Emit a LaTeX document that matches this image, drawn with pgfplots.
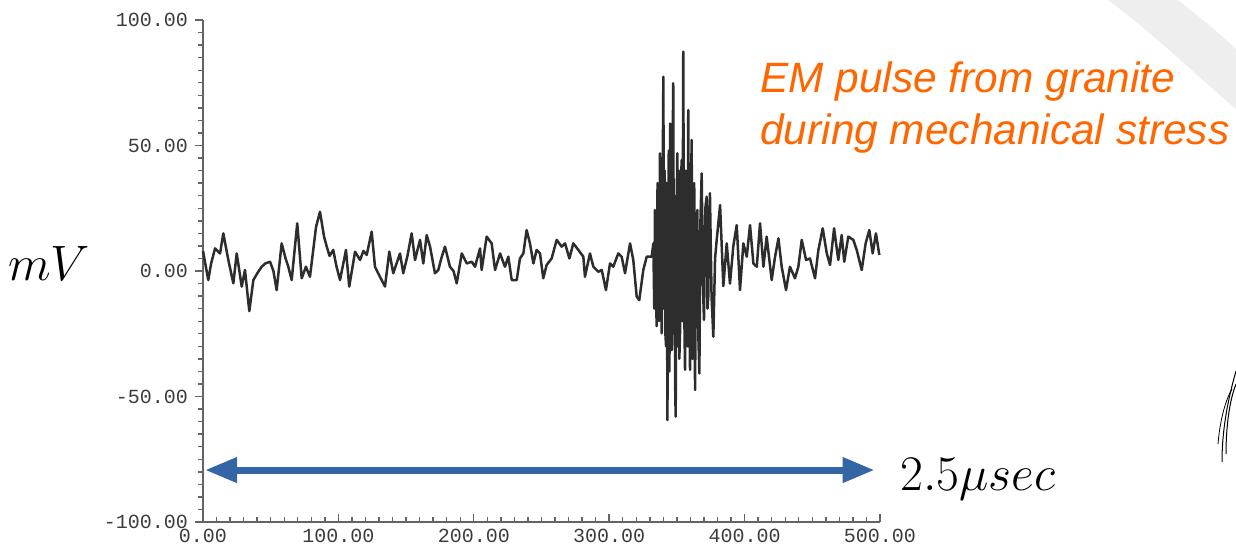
\documentclass[border=0pt]{standalone}
\usepackage{fontspec}
\usepackage{pgfplots}
\pgfplotsset{compat=1.18}
\usetikzlibrary{arrows.meta}
\newfontfamily\ticksfont{Liberation Mono}
\newfontfamily\notefont{Liberation Sans}
\definecolor{axisgray}{RGB}{100,100,100}
\definecolor{labelgray}{RGB}{60,60,60}
\definecolor{tracegray}{RGB}{45,45,45}
\definecolor{arrowblue}{RGB}{52,101,164}
\definecolor{noteorange}{RGB}{255,102,0}
\definecolor{bandgray}{RGB}{238,238,238}
\begin{document}
\begin{tikzpicture}
\begin{scope}[x=0.5pt,y=0.5pt]
\useasboundingbox (0,0) rectangle (1236,549);
% decorative light band top right
\fill[bandgray] (1108,549) .. controls (1160,510) and (1200,470) .. (1236,440) -- (1236,500) .. controls (1215,520) and (1195,535) .. (1178,549) -- cycle;
% small scribble bottom right
\draw[black, line width=0.5pt] (1222,87) .. controls (1222,120) and (1228,150) .. (1236,178);
\draw[black, line width=0.5pt] (1226,95) .. controls (1226,125) and (1230,150) .. (1236,165);
\draw[black, line width=0.4pt] (1218,105) .. controls (1220,130) and (1226,150) .. (1232,160);
\end{scope}
\begin{axis}[
 at={(101.5pt,13.5pt)}, anchor=south west,
 scale only axis, width=338.5pt, height=251pt,
 xmin=0, xmax=500, ymin=-100, ymax=100,
 axis x line*=bottom, axis y line*=left,
 axis line style={draw=axisgray, line width=0.9pt, -},
 xtick={0,100,...,500}, ytick={-100,-50,...,100},
 minor x tick num=9, minor y tick num=9,
 xtick align=inside, ytick align=outside,
 major tick length=4pt, minor tick length=2.5pt,
 every tick/.style={draw=axisgray, line width=0.7pt},
 ticklabel style={font=\ticksfont\fontsize{10}{10}\selectfont, text=labelgray},
 /pgf/number format/fixed, /pgf/number format/fixed zerofill,
 /pgf/number format/precision=2, /pgf/number format/assume math mode=true,
 /pgf/number format/1000 sep={},
 clip=false,
]
\addplot[tracegray, line width=1.25pt, line join=round] coordinates {
(0,8) (2,2) (3.9,-3.6) (6,3) (8.9,9) (12.6,7) (15,15) (18.7,4.4) (22.4,-4.9) (24.9,7)
(28.6,-6.2) (31,0.4) (34.2,-16) (37.2,-3.6) (40,-1) (43.3,1.7) (46,3) (49.5,3.7) (52,0) (54.4,-7.6)
(58.1,11) (61,5) (63,1.7) (65.5,-3.6) (69.6,19) (72.9,-2.9) (76,1.7) (79,-2.3) (83.5,17.6) (86.4,23.6)
(89.4,13.7) (91.4,9.7) (93.5,6) (96.2,8.4) (98.5,2) (101.2,-3.6) (105.6,8.4) (108,-6.2) (112.3,7.7) (116,4.4)
(118.5,8) (120.9,6.4) (124.6,15.7) (127,1.7) (130.7,-2.3) (134.4,-6.2) (137.6,7.7) (140.5,-0.9) (145.5,7) (147.9,-0.9)
(151,6) (154.1,15) (156.6,4.4) (160.3,12.4) (162.7,3) (165.2,14.3) (167.7,9.7) (171.3,-0.9) (173.8,0.4) (176,5)
(178.7,9.7) (182.4,1.7) (185,0) (187.4,-4.9) (191.1,7) (194.8,3) (198.5,3.7) (200.9,1.7) (204.6,9) (205.8,0.4)
(209.5,13.7) (213.2,11) (215.7,0.4) (219.4,7) (223,1.7) (225.5,5.7) (228,-3.6) (231.7,-3.6) (234.1,5) (236.6,7)
(239,16.3) (241.5,11) (244,3) (246.4,8.4) (248.9,7) (251.3,-2.9) (253.8,2.4) (257.5,5) (261.2,12.4) (264.9,9.7)
(267.4,11) (270.6,5) (273.5,11) (277.2,8.4) (280.9,5.7) (282.1,-2.3) (285.8,7) (288.3,1.7) (292,-0.3) (294.5,0.4)
(297.6,-7.6) (300.6,3) (303,1.7) (306.7,7) (309.2,5.7) (311.7,-0.9) (315.4,11) (317.8,4.4) (320.3,-10.2) (322.2,-11.6)
(325.2,0.4) (327.7,5.7) (331.4,5.7) (332.6,11) (333.3,-15) (333.8,24.3) (334.4,-8) (335.1,-22) (335.7,35) (336.2,20)
(336.8,-20) (337.5,46.9) (338.1,0) (338.8,-24.8) (339.4,30) (340,77.4) (340.5,-15) (341,40) (341.5,-25) (342,-30)
(342.5,35) (343,-59.4) (343.5,10) (344,48) (344.5,-40) (345,58.8) (345.6,-20) (346.2,-31.5) (346.8,45) (347.3,74.8)
(347.8,-25) (348.2,30) (348.7,-45) (349.1,-58) (349.7,20) (350.3,46.9) (350.8,-30) (351.3,40) (351.8,-35) (352.3,-24.8)
(352.9,30) (353.5,44.2) (354.1,-20) (354.7,87.4) (355.3,-10) (356,-39.4) (356.6,40) (357.2,30) (357.8,-30) (358.4,64.1)
(359,-10) (359.7,-39.4) (360.3,25) (360.9,52.2) (361.5,-35) (362.2,-20) (362.8,35) (363.4,-47.4) (364.2,15) (365.1,24.3)
(365.8,-25) (366.6,-40.8) (367.4,20) (368.3,38.9) (369.2,-5) (370,-19.5) (371,25) (372,29.6) (372.6,-15) (373.2,-10)
(373.8,20) (374.4,31) (375.6,-10) (376.9,-26.2) (378.2,5) (379.4,12.4)
(381.9,26.3) (384.3,-6) (386.8,11) (389.2,-5) (391.7,10) (394.2,18.3) (396.6,-7.6) (399.1,11) (401.6,5.7) (404,18.3)
(406.5,3) (409,1.7) (411.4,19) (413.9,1.7) (416.3,13.7) (420,-3.6) (422.5,5.7) (425,13) (427.4,1.7) (430.6,-7.6)
(433.5,1.7) (437.2,-2.9) (439.7,1.7) (442.2,12.4) (445.4,4.4) (448.3,5) (452,-2.9) (454.5,8.4) (457.7,17) (460.7,7)
(463.1,2.4) (466.1,17) (469.2,4.4) (471.7,14.3) (473.6,3.7) (476.6,13.7) (480.3,12.4) (482.8,8.4) (486.5,0.4) (489.4,11)
(492.1,16.3) (494.6,7) (497,15) (499.5,6.4)
};
\draw[arrowblue, line width=3.5pt, {Triangle[length=16pt,width=12pt]}-{Triangle[length=16pt,width=12pt]}]
 (axis cs:1.5,-79.3) -- (axis cs:496,-79.3);
\end{axis}
\begin{scope}[x=0.5pt,y=0.5pt]
\node[anchor=base west, inner sep=0pt] at (8,269) {\fontsize{30}{36}\selectfont $mV$};
\node[anchor=base west, inner sep=0pt] at (900,59) {\fontsize{30}{36}\selectfont $2.5\mu sec$};
\node[anchor=base west, inner sep=0pt, text=noteorange] at (760,456) {\notefont\itshape\fontsize{21.2}{26}\selectfont EM pulse from granite};
\node[anchor=base west, inner sep=0pt, text=noteorange] at (760,404) {\notefont\itshape\fontsize{21.2}{26}\selectfont during mechanical stress};
\end{scope}
\end{tikzpicture}
\end{document}
